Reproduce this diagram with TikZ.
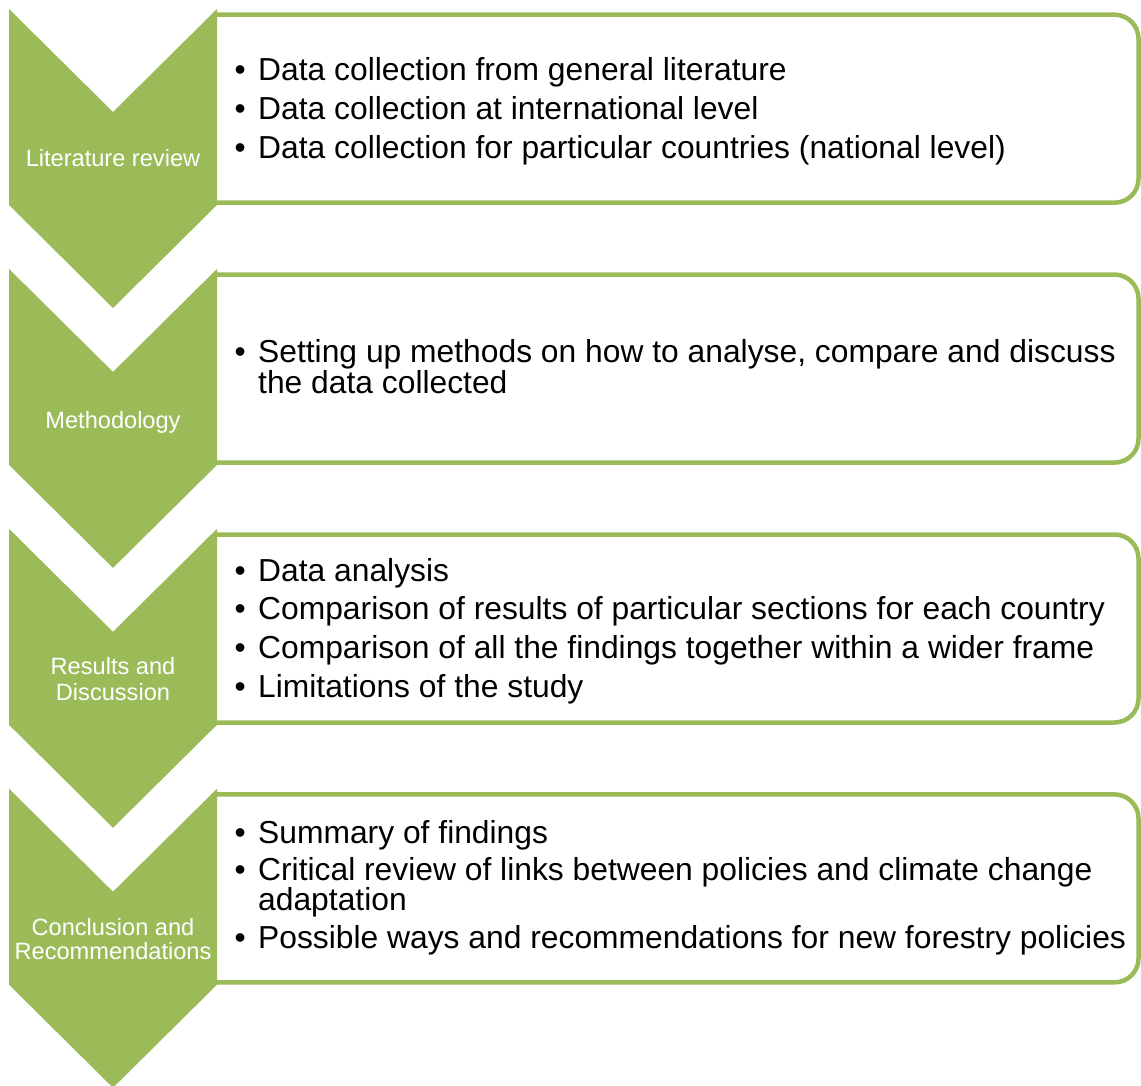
\documentclass[tikz,border=0pt]{standalone}
\usepackage{fontspec}
\setmainfont{Liberation Sans}
\definecolor{stagegreen}{HTML}{9BBB59}
\newcommand{\itembullet}{\llap{•\hspace{12.4pt}}}
\begin{document}
\begin{tikzpicture}[x=1pt,y=-1pt,
  stage/.style={fill=stagegreen},
  frame/.style={draw=stagegreen,line width=4.5pt,rounded corners=24pt,fill=white},
  item/.style={anchor=base west,inner sep=0pt,align=left,
    font=\fontsize{31.8}{29}\selectfont},
  stagelabel/.style={anchor=base,inner sep=0pt,align=center,text=white,
    font=\fontsize{23.6}{26}\selectfont}]
\useasboundingbox (0,0) rectangle (1141,1086);

% four stages: content frame first, chevron on top of its left end
\foreach \t in {9,268.9,528.8,788.7}{
  \draw[frame] (217,\t+5.7) -- (1138.5,\t+5.7) -- (1138.5,\t+193.7) -- (217,\t+193.7);
  \fill[stage] (9,\t) -- (113,\t+103) -- (217,\t) -- (217,\t+196)
    -- (113,\t+299) -- (9,\t+196) -- cycle;
}

% stage labels (multi-line nodes sit on the baseline of their last line)
\node[stagelabel] (lit)  at (113,166.7) {Literature review};
\node[stagelabel] (meth) at (113,428.3) {Methodology};
\node[stagelabel] (res)  at (113,700)   {Results and\\Discussion};
\node[stagelabel,font=\fontsize{23.6}{23.6}\selectfont] (conc) at (113,959.3)
  {Conclusion and\\Recommendations};

% literature review
\node[item] (lit1) at (258,80.7)  {\itembullet Data collection from general literature};
\node[item] (lit2) at (258,119.5) {\itembullet Data collection at international level};
\node[item] (lit3) at (258,158.3) {\itembullet Data collection for particular countries (national level)};

% methodology
\node[item] (meth1) at (258,393) {\itembullet Setting up methods on how to analyse, compare and discuss\\the data collected};

% results and discussion
\node[item] (res1) at (258,581)   {\itembullet Data analysis};
\node[item] (res2) at (258,619.7) {\itembullet Comparison of results of particular sections for each country};
\node[item] (res3) at (258,658.4) {\itembullet Comparison of all the findings together within a wider frame};
\node[item] (res4) at (258,697.1) {\itembullet Limitations of the study};

% conclusion and recommendations
\node[item] (conc1) at (258,843.3) {\itembullet Summary of findings};
\node[item] (conc2) at (258,910.7) {\itembullet Critical review of links between policies and climate change\\adaptation};
\node[item] (conc3) at (258,948.3) {\itembullet Possible ways and recommendations for new forestry policies};
\end{tikzpicture}
\end{document}
